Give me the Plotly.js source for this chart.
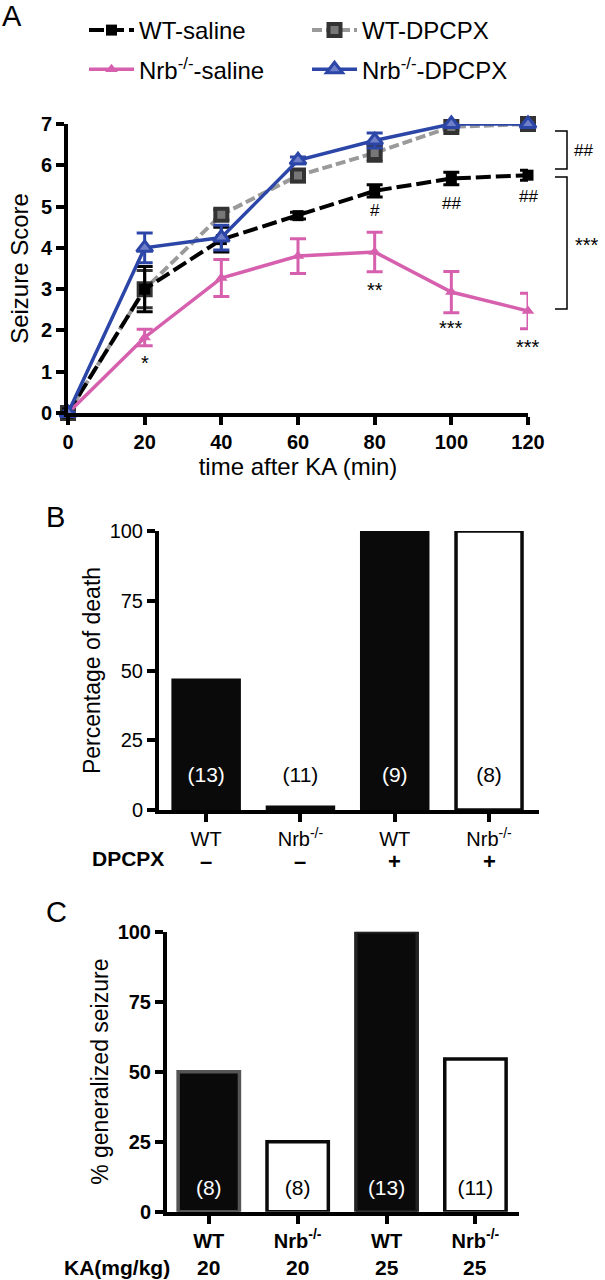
<!DOCTYPE html>
<html>
<head>
<meta charset="utf-8">
<script src="https://cdn.plot.ly/plotly-3.0.1.min.js"></script>
<style>html,body{margin:0;padding:0;background:#fff;}#chart{width:605px;height:1280px;}</style>
</head>
<body>
<div id="chart"></div>
<script>
// ---------- Panel A data ----------
const timeMin = [0, 20, 40, 60, 80, 100, 120];
const wtSaline = [0, 3.0, 4.2, 4.78, 5.38, 5.68, 5.76];
const wtSalineErr = [0, 0.55, 0.3, 0.08, 0.15, 0.15, 0.12];
const wtDpcpx = [0, 3.0, 4.8, 5.75, 6.3, 6.93, 7.0];
const wtDpcpxErr = [0, 0.45, 0.12, 0.15, 0.2, 0.08, 0.05];
const nrbSaline = [0, 1.83, 3.27, 3.8, 3.9, 2.93, 2.47];
const nrbSalineErr = [0, 0.2, 0.45, 0.42, 0.48, 0.5, 0.43];
const nrbDpcpx = [0, 4.0, 4.25, 6.12, 6.6, 7.0, 7.0];
const nrbDpcpxErr = [0, 0.36, 0.3, 0.08, 0.18, 0.05, 0.05];
const seriesNames = ['WT-saline', 'WT-DPCPX', 'Nrb<sup>-/-</sup>-saline', 'Nrb<sup>-/-</sup>-DPCPX'];
const sigA = [
  {t: 20, v: 1.2, s: '*'}, {t: 80, v: 4.9, s: '#'}, {t: 100, v: 5.08, s: '##'}, {t: 120, v: 5.24, s: '##'},
  {t: 80, v: 2.98, s: '**'}, {t: 100, v: 2.05, s: '***'}, {t: 120, v: 1.6, s: '***'}
];

// ---------- Panel B data ----------
const groupIdx = [0, 1, 2, 3];
const groupLabels = ['WT', 'Nrb<sup>-/-</sup>', 'WT', 'Nrb<sup>-/-</sup>'];
const deathPct = [46.5, 1, 100, 100];
const deathN = ['(13)', '(11)', '(9)', '(8)'];
const dpcpxSigns = ['–', '–', '+', '+'];

// ---------- Panel C data ----------
const seizurePct = [50, 25, 100, 54.5];
const seizureN = ['(8)', '(8)', '(13)', '(11)'];
const kaDose = ['20', '20', '25', '25'];

// ---------- styles ----------
const FONT = 'Liberation Sans, Arial, sans-serif';
const PINK = '#d660ae', BLUE = '#2c46a8', GRAY = '#9a9a9a', DARK = '#333333';
const fillB = ['#0a0a0a', '#ffffff', '#0a0a0a', '#ffffff'];
const lineB = ['#0a0a0a', '#0a0a0a', '#0a0a0a', '#0a0a0a'];
const textColB = ['#ffffff', '#000000', '#ffffff', '#000000'];
const fillC = ['#0a0a0a', '#ffffff', '#0a0a0a', '#ffffff'];
const lineC = ['#555555', '#0a0a0a', '#222222', '#0a0a0a'];
const textColC = ['#ffffff', '#000000', '#ffffff', '#000000'];

const W = 605, H = 1280;
const px = v => v / W;
const py = v => 1 - v / H;

function errBar(arr, color) {
  return {type: 'data', array: arr, visible: true, color: color, thickness: 3, width: 8};
}

const traces = [
  {x: timeMin, y: wtDpcpx, name: seriesNames[1], type: 'scatter', mode: 'lines+markers', xaxis: 'x', yaxis: 'y',
   legend: 'legend2', legendgroup: 'g2', cliponaxis: false,
   line: {color: GRAY, width: 4, dash: '10px,4px'},
   marker: {symbol: 'square', size: 12, color: '#777777', line: {color: DARK, width: 4}},
   error_y: errBar(wtDpcpxErr, DARK)},
  {x: timeMin, y: wtSaline, name: seriesNames[0], type: 'scatter', mode: 'lines+markers', xaxis: 'x', yaxis: 'y',
   legend: 'legend', legendgroup: 'g1', cliponaxis: false,
   line: {color: '#000000', width: 4, dash: '15px,5px'},
   marker: {symbol: 'square', size: 11, color: '#000000'},
   error_y: errBar(wtSalineErr, '#000000')},
  {x: timeMin, y: nrbSaline, name: seriesNames[2], type: 'scatter', mode: 'lines+markers', xaxis: 'x', yaxis: 'y',
   legend: 'legend', legendgroup: 'g3', cliponaxis: false,
   line: {color: PINK, width: 3.5},
   marker: {symbol: 'triangle-up', size: 11, color: PINK},
   error_y: errBar(nrbSalineErr, PINK)},
  {x: timeMin, y: nrbDpcpx, name: seriesNames[3], type: 'scatter', mode: 'lines+markers', xaxis: 'x', yaxis: 'y',
   legend: 'legend2', legendgroup: 'g4', cliponaxis: false,
   line: {color: BLUE, width: 3.5},
   marker: {symbol: 'triangle-up', size: 14, color: '#6f80c8', line: {color: BLUE, width: 3}},
   error_y: errBar(nrbDpcpxErr, BLUE)},
  // Panel B bars
  {x: groupIdx, y: deathPct, type: 'bar', xaxis: 'x2', yaxis: 'y2', showlegend: false, width: 0.70,
   marker: {color: fillB, line: {color: lineB, width: 3.5}}},
  {x: groupIdx, y: groupIdx.map(() => 11.8), text: deathN, mode: 'text', type: 'scatter', xaxis: 'x2', yaxis: 'y2',
   showlegend: false, textposition: 'middle center', textfont: {family: FONT, size: 21, color: textColB}, cliponaxis: false},
  // Panel C bars
  {x: groupIdx, y: seizurePct, type: 'bar', xaxis: 'x3', yaxis: 'y3', showlegend: false, width: 0.69,
   marker: {color: fillC, line: {color: lineC, width: 3.5}}},
  {x: groupIdx, y: groupIdx.map(() => 7.8), text: seizureN, mode: 'text', type: 'scatter', xaxis: 'x3', yaxis: 'y3',
   showlegend: false, textposition: 'middle center', textfont: {family: FONT, size: 21, color: textColC}, cliponaxis: false}
];

const axisBase = {
  showline: true, linecolor: '#000', linewidth: 4, ticks: 'outside', ticklen: 8, tickwidth: 4, tickcolor: '#000',
  showgrid: false, zeroline: false, fixedrange: true
};

const annotations = [];
// panel letters
annotations.push({text: 'A', x: px(0), y: py(16), xref: 'paper', yref: 'paper', xanchor: 'left', yanchor: 'middle', showarrow: false, font: {family: FONT, size: 29, color: '#000'}});
annotations.push({text: 'B', x: px(44), y: py(517), xref: 'paper', yref: 'paper', xanchor: 'left', yanchor: 'middle', showarrow: false, font: {family: FONT, size: 29, color: '#000'}});
annotations.push({text: 'C', x: px(44), y: py(912), xref: 'paper', yref: 'paper', xanchor: 'left', yanchor: 'middle', showarrow: false, font: {family: FONT, size: 29, color: '#000'}});
// significance marks in A
sigA.forEach(s => annotations.push({text: s.s, x: s.t, y: s.v, xref: 'x', yref: 'y', showarrow: false, xanchor: 'center', yanchor: 'middle', font: {family: FONT, size: s.s[0] === '#' ? 17 : 20, color: '#000'}}));
// bracket labels
annotations.push({text: '##', x: px(572), y: py(150), xref: 'paper', yref: 'paper', xanchor: 'left', yanchor: 'middle', showarrow: false, font: {family: FONT, size: 17, color: '#000'}});
annotations.push({text: '***', x: px(573), y: py(245), xref: 'paper', yref: 'paper', xanchor: 'left', yanchor: 'middle', showarrow: false, font: {family: FONT, size: 20, color: '#000'}});
// DPCPX row
annotations.push({text: '<b>DPCPX</b>', x: px(166), y: py(858), xref: 'paper', yref: 'paper', xanchor: 'right', yanchor: 'middle', showarrow: false, font: {family: FONT, size: 21, color: '#000'}});
dpcpxSigns.forEach((s, i) => annotations.push({text: '<b>' + s + '</b>', x: groupIdx[i], y: py(861), xref: 'x2', yref: 'paper', xanchor: 'center', yanchor: 'middle', showarrow: false, font: {family: FONT, size: 22, color: '#000'}}));
// KA row
annotations.push({text: '<b>KA(mg/kg)</b>', x: px(172), y: py(1267), xref: 'paper', yref: 'paper', xanchor: 'right', yanchor: 'middle', showarrow: false, font: {family: FONT, size: 21, color: '#000'}});
kaDose.forEach((s, i) => annotations.push({text: '<b>' + s + '</b>', x: groupIdx[i], y: py(1267), xref: 'x3', yref: 'paper', xanchor: 'center', yanchor: 'middle', showarrow: false, font: {family: FONT, size: 21, color: '#000'}}));

const shapes = [
  {type: 'path', xref: 'paper', yref: 'paper', path: `M${px(555)},${py(131)} L${px(567)},${py(131)} L${px(567)},${py(169)} L${px(555)},${py(169)}`, line: {color: '#000', width: 1.5}},
  {type: 'path', xref: 'paper', yref: 'paper', path: `M${px(555)},${py(177)} L${px(567)},${py(177)} L${px(567)},${py(309)} L${px(555)},${py(309)}`, line: {color: '#000', width: 1.5}}
];

const layout = {
  width: W, height: H,
  margin: {l: 0, r: 0, t: 0, b: 0},
  paper_bgcolor: '#fff', plot_bgcolor: 'rgba(0,0,0,0)',
  font: {family: FONT, color: '#000'},
  showlegend: true,
  legend: {x: px(84), y: py(8), xanchor: 'left', yanchor: 'top', bgcolor: 'rgba(0,0,0,0)', borderwidth: 0,
           font: {family: FONT, size: 24, color: '#000'}, itemwidth: 45, tracegroupgap: 5, traceorder: 'grouped', itemclick: false},
  legend2: {x: px(307), y: py(8), xanchor: 'left', yanchor: 'top', bgcolor: 'rgba(0,0,0,0)', borderwidth: 0,
           font: {family: FONT, size: 24, color: '#000'}, itemwidth: 45, tracegroupgap: 5, traceorder: 'grouped', itemclick: false},
  xaxis: Object.assign({}, axisBase, {domain: [px(68), px(528)], range: [0, 120], tickvals: timeMin, anchor: 'y',
    tickfont: {family: FONT, size: 20, weight: 'bold'},
    title: {text: 'time after KA (min)', font: {family: FONT, size: 24}, standoff: 7}}),
  yaxis: Object.assign({}, axisBase, {domain: [py(413), py(124)], range: [0, 7], dtick: 1, anchor: 'x',
    tickfont: {family: FONT, size: 20, weight: 'bold'},
    title: {text: 'Seizure Score', font: {family: FONT, size: 24}, standoff: 6}}),
  xaxis2: Object.assign({}, axisBase, {domain: [px(159), px(539)], range: [-0.5, 3.53], tickvals: groupIdx, ticktext: groupLabels, anchor: 'y2',
    tickfont: {family: FONT, size: 20}}),
  yaxis2: Object.assign({}, axisBase, {domain: [py(810), py(531)], range: [0, 100], tickvals: [0, 25, 50, 75, 100], anchor: 'x2',
    tickfont: {family: FONT, size: 20},
    title: {text: 'Percentage of death', font: {family: FONT, size: 23}, standoff: 4}}),
  xaxis3: Object.assign({}, axisBase, {domain: [px(167), px(519)], range: [-0.47, 3.49], tickvals: groupIdx, ticktext: groupLabels, anchor: 'y3',
    tickfont: {family: FONT, size: 20, weight: 'bold'}}),
  yaxis3: Object.assign({}, axisBase, {domain: [py(1211.7), py(931.7)], range: [0, 100], tickvals: [0, 25, 50, 75, 100], anchor: 'x3',
    tickfont: {family: FONT, size: 20, weight: 'bold'},
    title: {text: '% generalized seizure', font: {family: FONT, size: 23}, standoff: 4}}),
  annotations: annotations,
  shapes: shapes
};

Plotly.newPlot('chart', traces, layout, {staticPlot: true, displayModeBar: false});
</script>
</body>
</html>
